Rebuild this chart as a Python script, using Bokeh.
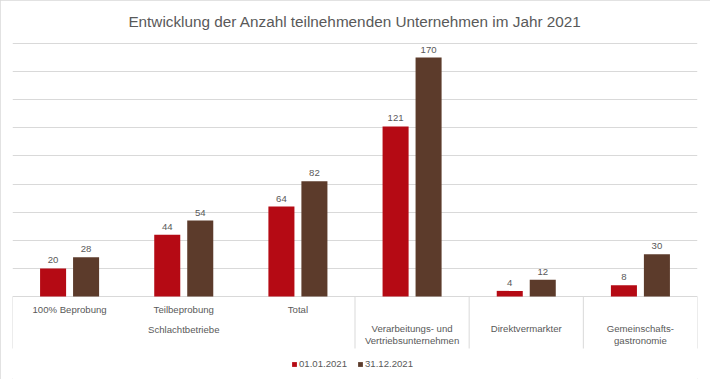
from bokeh.plotting import figure
from bokeh.models import (ColumnDataSource, Range1d, FixedTicker, Legend, LegendItem)
from bokeh.transform import dodge
from bokeh.core.properties import value
from bokeh.embed import file_html
from bokeh.resources import INLINE

# ---- data ----
title_text = "Entwicklung der Anzahl teilnehmenden Unternehmen im Jahr 2021"
categories = ["100% Beprobung", "Teilbeprobung", "Total",
              "Verarbeitungs- und\nVertriebsunternehmen", "Direktvermarkter",
              "Gemeinschafts-\ngastronomie"]
groups = ["Schlachtbetriebe", "Schlachtbetriebe", "Schlachtbetriebe", "", "", ""]
series_names = ["01.01.2021", "31.12.2021"]
values_0101 = [20, 44, 64, 121, 4, 8]
values_3112 = [28, 54, 82, 170, 12, 30]
y_ticks = [0, 20, 40, 60, 80, 100, 120, 140, 160, 180]

# ---- style ----
FONT = "Liberation Sans"
GREY = "#595959"
LINE = "#d9d9d9"
COLORS = ["#B50A14", "#5C3B2B"]
LBL = "9.6px"

n = len(categories)
xs = [i + 0.5 for i in range(n)]
src = ColumnDataSource(dict(x=xs, a=values_0101, b=values_3112,
                            la=[str(v) for v in values_0101],
                            lb=[str(v) for v in values_3112]))

p = figure(width=710, height=379, output_backend="svg", toolbar_location=None,
           x_range=Range1d(0, n), y_range=Range1d(-59.05, 187.11),
           min_border_left=12, min_border_right=13, min_border_top=33,
           min_border_bottom=0,
           styles={"outline": "1px solid #d9d9d9", "outline-offset": "-1px"})
p.outline_line_color = None
p.xaxis.visible = False
p.yaxis.visible = False
p.xgrid.visible = False
p.ygrid.ticker = FixedTicker(ticks=y_ticks)
p.ygrid.grid_line_color = LINE
p.ygrid.grid_line_width = 1

p.title.text = title_text
p.title.align = "center"
p.title.text_font = FONT
p.title.text_font_size = "15.3px"
p.title.text_font_style = "normal"
p.title.text_color = GREY
p.title.standoff = 8

bw = 0.228
off = 0.1445
ra = p.vbar(x=dodge("x", -off, range=p.x_range), top="a", width=bw, bottom=0,
            source=src, fill_color=COLORS[0], line_color=None)
rb = p.vbar(x=dodge("x", off, range=p.x_range), top="b", width=bw, bottom=0,
            source=src, fill_color=COLORS[1], line_color=None)

for col, lab, o in (("a", "la", -off), ("b", "lb", off)):
    p.text(x=dodge("x", o, range=p.x_range), y=col, text=lab, source=src,
           text_align="center", text_baseline="bottom", y_offset=-5,
           text_font=value(FONT), text_font_size=LBL, text_color=GREY)

# category labels
lx, ly, lt, loff = [], [], [], []
for i, (c, g) in enumerate(zip(categories, groups)):
    lines = c.split("\n")
    base = 13 if g else 32
    for k, ln in enumerate(lines):
        lx.append(xs[i]); ly.append(0); lt.append(ln); loff.append(base + 12.5 * k)
# group labels
seen = []
for g in groups:
    if g and g not in seen:
        seen.append(g)
        idx = [i for i, gg in enumerate(groups) if gg == g]
        lx.append((xs[idx[0]] + xs[idx[-1]]) / 2); ly.append(0); lt.append(g); loff.append(33)
lsrc = ColumnDataSource(dict(x=lx, y=ly, t=lt, o=loff))
p.text(x="x", y="y", text="t", y_offset="o", source=lsrc, text_align="center",
       text_baseline="middle", text_font=value(FONT), text_font_size=LBL,
       text_color=GREY)

# separators between top-level groups
bounds = [0]
for i in range(1, n):
    if not (groups[i] and groups[i] == groups[i - 1]):
        bounds.append(i)
bounds.append(n)
p.segment(x0=bounds, x1=bounds, y0=[0] * len(bounds), y1=[-37] * len(bounds),
          line_color=LINE, line_width=1)

legend = Legend(items=[LegendItem(label=series_names[0], renderers=[ra]),
                       LegendItem(label=series_names[1], renderers=[rb])],
                location=(279, 10), orientation="horizontal",
                background_fill_alpha=0, border_line_alpha=0, padding=0, margin=0,
                label_text_font=FONT, label_text_font_size=LBL,
                label_text_color=GREY, glyph_width=6, glyph_height=6,
                label_standoff=2, spacing=10, label_height=10)
p.add_layout(legend)

open("out.html", "w").write(file_html(p, INLINE))
